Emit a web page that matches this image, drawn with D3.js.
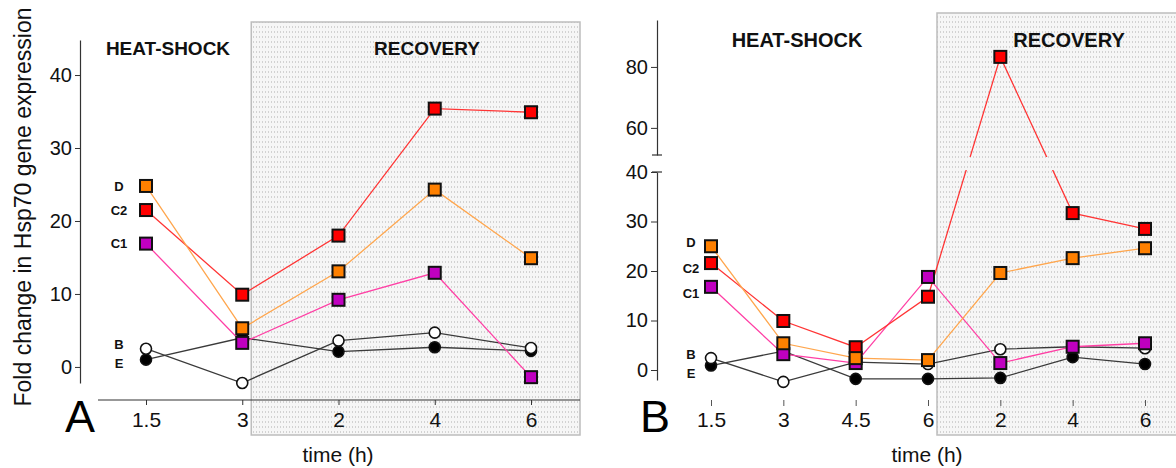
<!DOCTYPE html>
<html>
<head>
<meta charset="utf-8">
<script src="https://cdn.jsdelivr.net/npm/d3@7"></script>
<style>
  body { margin: 0; background: #fff; }
  svg { display: block; }
  text { font-family: "Liberation Sans", Arial, Helvetica, sans-serif; }
</style>
</head>
<body>
<svg id="chart" width="1176" height="468"></svg>
<script>
// ---- Panel A: sampling times (h) ----
const timesA = ["1.5", "3", "2", "4", "6"];
const recoveryStartA = 2;            // first recovery sample index
// ---- Panel B: sampling times (h) ----
const timesB = ["1.5", "3", "4.5", "6", "2", "4", "6"];
const recoveryStartB = 4;

const seriesKeys = ["D", "C2", "C1", "B", "E"];

// Fold change in Hsp70 expression, panel A
const aD  = [24.8, 5.3, 13.1, 24.3, 14.9];
const aC2 = [21.5, 9.9, 18.0, 35.4, 34.9];
const aC1 = [16.9, 3.3, 9.2, 12.9, -1.4];
const aB  = [2.5, -2.2, 3.6, 4.7, 2.6];
const aE  = [1.0, 4.0, 2.1, 2.7, 2.2];

// Fold change in Hsp70 expression, panel B
const bD  = [25.0, 5.4, 2.4, 2.0, 19.6, 22.6, 24.6];
const bC2 = [21.6, 9.9, 4.6, 14.8, 83.3, 31.7, 28.5];
const bC1 = [16.8, 3.2, 1.4, 18.8, 1.4, 4.7, 5.4];
const bB  = [2.4, -2.4, 1.6, 1.2, 4.2, 4.7, 4.4];
const bE  = [0.9, 3.8, -1.8, -1.8, -1.6, 2.6, 1.2];

const yTicksA = [0, 10, 20, 30, 40];
const yTicksBLow = [0, 10, 20, 30, 40];
const yTicksBHigh = [60, 80];

// marker / line styling per series
const style = {
  D:  { shape: "square", fill: "#ff8000", line: "#ffa64d" },
  C2: { shape: "square", fill: "#ff0000", line: "#ff3535" },
  C1: { shape: "square", fill: "#c000c0", line: "#ff3fa5" },
  B:  { shape: "circle", fill: "#ffffff", line: "#3a3a3a" },
  E:  { shape: "circle", fill: "#000000", line: "#3a3a3a" }
};

const svg = d3.select("#chart");
const defs = svg.append("defs");

// stippled background for the recovery phase
const pat = defs.append("pattern").attr("id", "stipple")
  .attr("width", 3).attr("height", 5).attr("patternUnits", "userSpaceOnUse");
pat.append("rect").attr("width", 3).attr("height", 5).attr("fill", "#f6f6f6");
pat.append("rect").attr("x", 1).attr("y", 1).attr("width", 1).attr("height", 2).attr("fill", "#d2d2d2");

// clip for the broken y axis of panel B
const clip = defs.append("clipPath").attr("id", "breakClip");
clip.append("rect").attr("x", 0).attr("y", 0).attr("width", 1176).attr("height", 157);
clip.append("rect").attr("x", 0).attr("y", 170).attr("width", 1176).attr("height", 300);

function drawSeries(g, x, y, data, order) {
  const line = d3.line().x((d, i) => x(i)).y(d => y(d));
  // lines first
  order.forEach(k => {
    g.append("path").datum(data[k])
      .attr("d", line)
      .attr("fill", "none")
      .attr("stroke", style[k].line)
      .attr("stroke-width", 1.3);
  });
  // markers on top
  order.forEach(k => {
    const s = style[k];
    const sel = g.append("g").selectAll("*").data(data[k]).enter();
    if (s.shape === "square") {
      sel.append("rect")
        .attr("x", (d, i) => x(i) - 6).attr("y", d => y(d) - 6)
        .attr("width", 12).attr("height", 12)
        .attr("fill", s.fill).attr("stroke", "#111").attr("stroke-width", 2);
    } else {
      sel.append("circle")
        .attr("cx", (d, i) => x(i)).attr("cy", d => y(d))
        .attr("r", 5.5)
        .attr("fill", s.fill).attr("stroke", "#111").attr("stroke-width", 1.6);
    }
  });
}

function styleAxis(g, size) {
  g.selectAll("path.domain").attr("stroke", "#333").attr("stroke-width", 1.2);
  g.selectAll(".tick line").attr("stroke", "#333");
  g.selectAll(".tick text").attr("font-size", size).attr("fill", "#111")
    .style("font-family", "'Liberation Sans', Arial, sans-serif");
}

function seriesLabels(g, xPos, y, data, nudge) {
  seriesKeys.forEach(k => {
    g.append("text")
      .attr("x", xPos).attr("y", y(data[k][0]) + nudge[k])
      .attr("dy", "0.36em")
      .attr("text-anchor", "middle")
      .attr("font-size", 13).attr("font-weight", "bold").attr("fill", "#111")
      .text(k);
  });
}

// ================= Panel A =================
const xA = d3.scalePoint().domain(d3.range(timesA.length)).range([146, 531]);
const yA = d3.scaleLinear().domain([-2.2, 44.8]).range([383, 40]);
const gA = svg.append("g");

// recovery shading
const shadeXA = xA(recoveryStartA - 1) + 9;
gA.append("rect")
  .attr("x", shadeXA).attr("y", 22)
  .attr("width", 580 - shadeXA).attr("height", 413)
  .attr("fill", "url(#stipple)").attr("stroke", "#bdbdbd").attr("stroke-width", 1.5);

gA.append("g").attr("transform", "translate(80,0)")
  .call(d3.axisLeft(yA).tickValues(yTicksA).tickSize(5).tickSizeOuter(0).tickPadding(3))
  .call(g => styleAxis(g, 20));

gA.append("line").attr("x1", 98).attr("x2", 580).attr("y1", 400).attr("y2", 400)
  .attr("stroke", "#333").attr("stroke-width", 1.2);
gA.append("g").attr("transform", "translate(0,400)")
  .call(d3.axisBottom(xA).tickFormat(i => timesA[i]).tickSize(5).tickSizeOuter(0).tickPadding(7))
  .call(g => g.select("path.domain").remove())
  .call(g => styleAxis(g, 21));

const dataA = { D: aD, C2: aC2, C1: aC1, B: aB, E: aE };
drawSeries(gA, xA, yA, dataA, ["E", "B", "C2", "D", "C1"]);
seriesLabels(gA, 119, yA, dataA, { D: 0, C2: 0, C1: 0, B: -4, E: 4 });

gA.append("text").attr("x", 168).attr("y", 55).attr("text-anchor", "middle")
  .attr("font-size", 19).attr("font-weight", "bold").attr("fill", "#111").text("HEAT-SHOCK");
gA.append("text").attr("x", 427).attr("y", 55).attr("text-anchor", "middle")
  .attr("font-size", 19).attr("font-weight", "bold").attr("fill", "#111").text("RECOVERY");
gA.append("text").attr("x", 80).attr("y", 432).attr("text-anchor", "middle")
  .attr("font-size", 45).attr("fill", "#000").text("A");
gA.append("text").attr("x", 338).attr("y", 462).attr("text-anchor", "middle")
  .attr("font-size", 21).attr("fill", "#111").text("time (h)");
svg.append("text")
  .attr("transform", "translate(31,207) rotate(-90)")
  .attr("text-anchor", "middle").attr("font-size", 23).attr("fill", "#111")
  .text("Fold change in Hsp70 gene expression");

// ================= Panel B =================
const xB = d3.scalePoint().domain(d3.range(timesB.length)).range([711, 1145]);
const yBLow = d3.scaleLinear().domain([-2.02, 40]).range([380, 172]);
const yBHigh = d3.scaleLinear().domain([51.1, 95.4]).range([155, 20]);
const yB = v => (v > 45 ? yBHigh(v) : yBLow(v));
const gB = svg.append("g");

const shadeXB = xB(recoveryStartB - 1) + 9;
gB.append("rect")
  .attr("x", shadeXB).attr("y", 13)
  .attr("width", 1190 - shadeXB).attr("height", 422)
  .attr("fill", "url(#stipple)").attr("stroke", "#bdbdbd").attr("stroke-width", 1.5);

gB.append("g").attr("transform", "translate(657,0)")
  .call(d3.axisLeft(yBLow).tickValues(yTicksBLow).tickSize(6).tickSizeOuter(0).tickPadding(3))
  .call(g => styleAxis(g, 20));
gB.append("g").attr("transform", "translate(657,0)")
  .call(d3.axisLeft(yBHigh).tickValues(yTicksBHigh).tickSize(6).tickSizeOuter(0).tickPadding(3))
  .call(g => styleAxis(g, 20));
// caps marking the axis break
[yBHigh.range()[0], yBLow(40)].forEach(yy => {
  gB.append("line").attr("x1", 652).attr("x2", 662).attr("y1", yy).attr("y2", yy)
    .attr("stroke", "#333").attr("stroke-width", 1.2);
});

gB.append("g").attr("transform", "translate(0,400)")
  .call(d3.axisBottom(xB).tickFormat(i => timesB[i]).tickSize(6).tickSizeOuter(0).tickPadding(6))
  .call(g => g.select("path.domain").remove())
  .call(g => styleAxis(g, 21))
  .call(g => g.selectAll(".tick line").attr("stroke", "#555"));

const dataB = { D: bD, C2: bC2, C1: bC1, B: bB, E: bE };
const plotB = gB.append("g").attr("clip-path", "url(#breakClip)");
drawSeries(plotB, xB, yB, dataB, ["E", "B", "C1", "C2", "D"]);
seriesLabels(gB, 691, yB, dataB, { D: -4, C2: 5, C1: 6, B: -4, E: 8 });

gB.append("text").attr("x", 797).attr("y", 47).attr("text-anchor", "middle")
  .attr("font-size", 20).attr("font-weight", "bold").attr("fill", "#111").text("HEAT-SHOCK");
gB.append("text").attr("x", 1069).attr("y", 47).attr("text-anchor", "middle")
  .attr("font-size", 20).attr("font-weight", "bold").attr("fill", "#111").text("RECOVERY");
gB.append("text").attr("x", 655).attr("y", 432).attr("text-anchor", "middle")
  .attr("font-size", 45).attr("fill", "#000").text("B");
gB.append("text").attr("x", 927).attr("y", 462).attr("text-anchor", "middle")
  .attr("font-size", 21).attr("fill", "#111").text("time (h)");
</script>
</body>
</html>
